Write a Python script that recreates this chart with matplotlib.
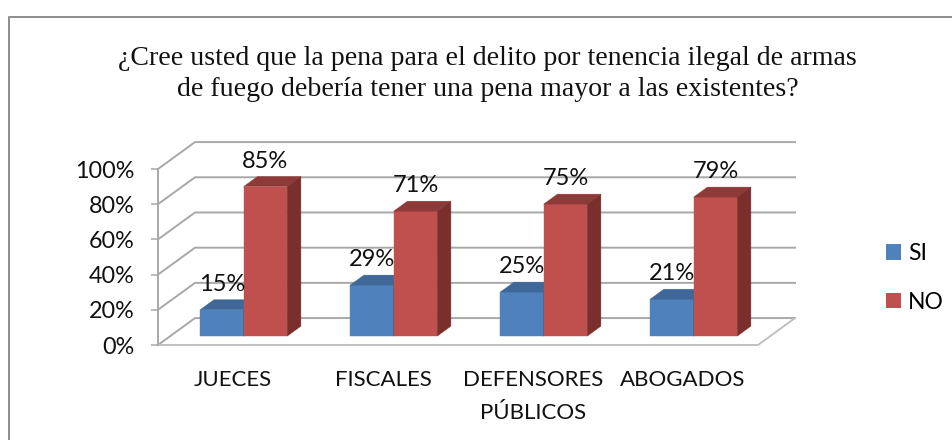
# oblique 3d-look column chart, drawn flat with polygons
import matplotlib
matplotlib.use('Agg')
import matplotlib.pyplot as plt
from matplotlib.lines import Line2D
from matplotlib.patches import Patch, Polygon

title = ('¿Cree usted que la pena para el delito por tenencia ilegal de armas\n'
         'de fuego debería tener una pena mayor a las existentes?')
categories = ['JUECES', 'FISCALES', 'DEFENSORES\nPÚBLICOS', 'ABOGADOS']
si_values = [15, 29, 25, 21]
no_values = [85, 71, 75, 79]
y_ticks = [0, 20, 40, 60, 80, 100]

GRID = '#a8a8a8'
SI_COLORS = ('#4f81bd', '#3f6797', '#39587f')   # front, top, side
NO_COLORS = ('#c0504d', '#8e3a38', '#7b2f2d')

# depth direction in data units (x in categories, y in percent)
DX = 0.2467
DY = 15.3
BAR_W = 0.29
D_FRONT = 0.33
D_BACK = 0.70


def proj(x, y, d):
    return (x + d * DX, y + d * DY)


def draw_bar(ax, left, value, colors):
    right = left + BAR_W
    faces = [
        ([proj(left, 0, D_FRONT), proj(right, 0, D_FRONT),
          proj(right, value, D_FRONT), proj(left, value, D_FRONT)], colors[0]),
        ([proj(left, value, D_FRONT), proj(right, value, D_FRONT),
          proj(right, value, D_BACK), proj(left, value, D_BACK)], colors[1]),
        ([proj(right, 0, D_FRONT), proj(right, 0, D_BACK),
          proj(right, value, D_BACK), proj(right, value, D_FRONT)], colors[2]),
    ]
    for pts, c in faces:
        ax.add_patch(Polygon(pts, closed=True, fc=c, ec=c, lw=0.3, clip_on=False, zorder=3))


fig = plt.figure(figsize=(9.52, 4.40), dpi=100)
ax = fig.add_axes([158 / 952, 95 / 440, 600 / 952, 176 / 440])
ax.set_xlim(0, len(categories))
ax.set_ylim(0, 100)
ax.patch.set_visible(False)

# walls and floor
for v in y_ticks:
    xs, ys = zip(proj(0, v, 0), proj(0, v, 1), proj(len(categories), v, 1))
    ax.plot(xs, ys, color=GRID, lw=1.4, clip_on=False, zorder=1)
xs, ys = zip(proj(len(categories), 0, 1), proj(len(categories), 0, 0), proj(0, 0, 0))
ax.plot(xs, ys, color='#c0c0c0', lw=1.4, clip_on=False, zorder=1)

for i in range(len(categories)):
    left = i + 0.49 - BAR_W
    draw_bar(ax, left, si_values[i], SI_COLORS)
    draw_bar(ax, left + BAR_W, no_values[i], NO_COLORS)
    for x0, v in ((left, si_values[i]), (left + BAR_W, no_values[i])):
        # label sits over the front face, above the back edge of the top
        ax.annotate('{}%'.format(v), xy=(proj(x0 + BAR_W / 2, v, D_FRONT)[0], proj(x0, v, D_BACK)[1]),
                    xytext=(0, 11), textcoords='offset points', ha='center', va='center',
                    fontsize=17, color='#111111', zorder=5, annotation_clip=False)

ax.set_yticks(y_ticks)
ax.set_yticklabels(['{}%'.format(v) for v in y_ticks], fontsize=16.8)
ax.set_xticks([i + 0.5 for i in range(len(categories))])
ax.set_xticklabels(categories, fontsize=16, linespacing=1.79)
ax.tick_params(axis='y', length=5, width=1.1, color=GRID, pad=12, labelcolor='#111111')
ax.tick_params(axis='x', length=0, pad=18, labelcolor='#111111')
for name in ['top', 'right', 'bottom']:
    ax.spines[name].set_visible(False)
ax.spines['left'].set_color(GRID)
ax.spines['left'].set_linewidth(1.4)

fig.text(487.5 / 952, 1 - 74 / 440, title, ha='center', va='center', fontsize=20.1,
         family='Liberation Serif', color='#111111', linespacing=1.27)

handles = [Patch(fc=SI_COLORS[0], label='SI'), Patch(fc=NO_COLORS[0], label='NO')]
fig.legend(handles=handles, loc='center left', bbox_to_anchor=(865 / 952, 1 - 278 / 440),
           frameon=False, fontsize=16.5, handlelength=0.66, handleheight=0.66,
           handletextpad=0.32, labelspacing=1.2)

# chart frame, only top and left show in the picture
fig.add_artist(Line2D([8.5 / 952, 8.5 / 952, 1], [0, 1 - 17 / 440, 1 - 17 / 440],
                      color='#8c8c8c', lw=1.4))

for t in fig.findobj(matplotlib.text.Text):
    if t.get_fontfamily() != ['Liberation Serif']:
        t.set_fontfamily('Lato')

fig.savefig('out.png', dpi=100)
